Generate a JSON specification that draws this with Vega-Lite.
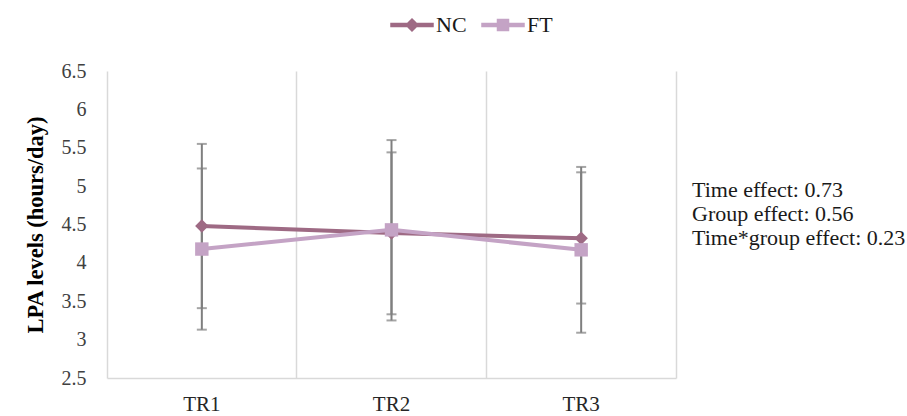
{
  "$schema": "https://vega.github.io/schema/vega-lite/v6.json",
  "autosize": "none",
  "width": 569,
  "height": 307,
  "padding": {"left": 107, "top": 71, "right": 231, "bottom": 38},
  "background": "white",
  "config": {
    "view": {"stroke": null},
    "font": "Liberation Serif",
    "axis": {"labelFont": "Liberation Serif", "titleFont": "Liberation Serif"},
    "legend": {"labelFont": "Liberation Serif"}
  },
  "datasets": {
    "stats": [
      {"time": "TR1", "group": "NC", "mean": 4.48, "lo": 3.41, "hi": 5.55},
      {"time": "TR2", "group": "NC", "mean": 4.39, "lo": 3.33, "hi": 5.44},
      {"time": "TR3", "group": "NC", "mean": 4.32, "lo": 3.47, "hi": 5.18},
      {"time": "TR1", "group": "FT", "mean": 4.18, "lo": 3.13, "hi": 5.23},
      {"time": "TR2", "group": "FT", "mean": 4.43, "lo": 3.25, "hi": 5.60},
      {"time": "TR3", "group": "FT", "mean": 4.17, "lo": 3.09, "hi": 5.25}
    ],
    "notes": [
      {"label": "Time effect: 0.73", "pos": 4.95},
      {"label": "Group effect: 0.56", "pos": 4.64},
      {"label": "Time*group effect: 0.23", "pos": 4.32}
    ]
  },
  "resolve": {"axis": {"y": "independent"}},
  "layer": [
    {
      "data": {"name": "stats"},
      "mark": {"type": "errorbar", "ticks": true, "size": 10, "thickness": 2, "color": "#7f7f7f"},
      "encoding": {
        "x": {
          "field": "time", "type": "nominal",
          "scale": {"paddingInner": 0, "paddingOuter": 0},
          "axis": {
            "title": null, "labelAngle": 0, "ticks": false, "domain": true,
            "domainColor": "#d9d9d9", "domainWidth": 1.5,
            "grid": true, "gridColor": "#d9d9d9", "gridWidth": 1.5, "bandPosition": 0,
            "labelFont": "Liberation Serif", "labelFontSize": 21, "labelColor": "#262626",
            "labelPadding": 15
          }
        },
        "y": {
          "field": "lo", "type": "quantitative",
          "scale": {"domain": [2.5, 6.5], "nice": false, "zero": false},
          "axis": {
            "title": "LPA levels (hours/day)", "titleFont": "Liberation Serif",
            "titleFontSize": 22.5, "titleFontWeight": "bold", "titleColor": "#000000",
            "titlePadding": 14, "format": "~g",
            "values": [2.5, 3, 3.5, 4, 4.5, 5, 5.5, 6, 6.5],
            "labelFont": "Liberation Serif", "labelFontSize": 20, "labelColor": "#404040",
            "ticks": false, "domain": false, "grid": false, "labelPadding": 21
          }
        },
        "y2": {"field": "hi"}
      }
    },
    {
      "data": {"name": "stats"},
      "mark": {"type": "line", "strokeWidth": 4},
      "encoding": {
        "x": {"field": "time", "type": "nominal"},
        "y": {"field": "mean", "type": "quantitative",
          "axis": {"orient": "right", "labels": false, "ticks": false, "grid": false, "title": null,
                   "domain": true, "domainColor": "#d9d9d9", "domainWidth": 1.5}},
        "color": {
          "field": "group", "type": "nominal",
          "scale": {"domain": ["NC", "FT"], "range": ["#9e6a84", "#c4a3c5"]},
          "legend": {
            "title": null, "orient": "none", "direction": "horizontal",
            "legendX": 294, "legendY": -57,
            "labelFont": "Liberation Serif", "labelFontSize": 22, "labelColor": "#1a1a1a",
            "symbolSize": 400, "labelOffset": 13, "columnPadding": 12,
            "encode": {
              "symbols": {
                "update": {
                  "shape": {"signal": "datum.value === 'NC' ? 'M-2.1,-0.15H2.1V0.15H-2.1Z M0,-0.6L0.6,0L0,0.6L-0.6,0Z' : 'M-2.1,-0.15H2.1V0.15H-2.1Z M-0.55,-0.55H0.55V0.55H-0.55Z'"},
                  "fill": {"signal": "scale('color', datum.value)"},
                  "stroke": {"value": "transparent"},
                  "opacity": {"value": 1}
                }
              }
            }
          }
        },
        "order": {"field": "time"}
      }
    },
    {
      "data": {"name": "stats"},
      "transform": [{"filter": "datum.group === 'NC'"}],
      "mark": {"type": "point", "shape": "diamond", "filled": true, "opacity": 1, "size": 180},
      "encoding": {
        "x": {"field": "time", "type": "nominal"},
        "y": {"field": "mean", "type": "quantitative", "axis": null},
        "color": {"field": "group", "type": "nominal"}
      }
    },
    {
      "data": {"name": "stats"},
      "transform": [{"filter": "datum.group === 'FT'"}],
      "mark": {"type": "point", "shape": "square", "filled": true, "opacity": 1, "size": 180},
      "encoding": {
        "x": {"field": "time", "type": "nominal"},
        "y": {"field": "mean", "type": "quantitative", "axis": null},
        "color": {"field": "group", "type": "nominal"}
      }
    },
    {
      "data": {"name": "notes"},
      "mark": {"type": "text", "align": "left", "baseline": "middle", "font": "Liberation Serif", "fontSize": 22, "color": "#1a1a1a", "x": {"expr": "width + 16"}},
      "encoding": {
        "y": {"field": "pos", "type": "quantitative", "axis": null},
        "text": {"field": "label"}
      }
    }
  ]
}
